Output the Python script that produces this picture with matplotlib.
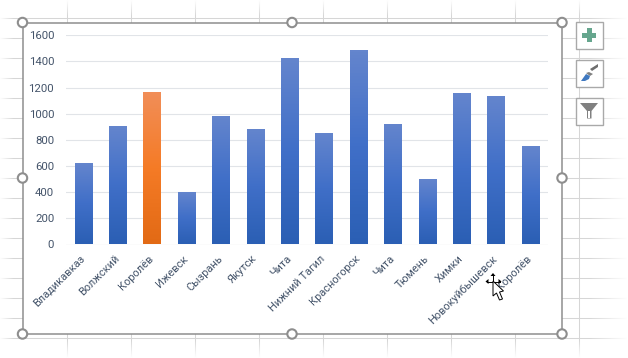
import numpy as np
import matplotlib
matplotlib.use('Agg')
import matplotlib.pyplot as plt
from matplotlib.patches import Circle, Rectangle, Polygon
from matplotlib.colors import LinearSegmentedColormap

W, H = 628, 358

cities = ['Владикавказ', 'Волжский', 'Королёв', 'Ижевск', 'Сызрань', 'Якутск', 'Чита',
          'Нижний Тагил', 'Красногорск', 'Чита', 'Тюмень', 'Химки', 'Новокуйбышевск', 'Королёв']
values = [625, 910, 1170, 400, 985, 880, 1425, 850, 1490, 920, 500, 1155, 1135, 750]
yticks = [0, 200, 400, 600, 800, 1000, 1200, 1400, 1600]

plt.rcParams['font.family'] = ['Roboto', 'DejaVu Sans']
TEXT = '#44546a'

fig = plt.figure(figsize=(W / 100, H / 100), dpi=100)

# sheet behind the chart, in pixel coordinates
bg = fig.add_axes([0, 0, 1, 1], zorder=0)
bg.set_xlim(0, W)
bg.set_ylim(H, 0)
bg.axis('off')
for x in range(67, W, 64):
    bg.plot([x, x], [0, H], color='#d6d6d6', lw=0.75)
for y in range(18, H, 20):
    bg.plot([0, W], [y, y], color='#d6d6d6', lw=0.75)

# sheet fades out at the edges
def fade(extent, horizontal, reverse):
    a = np.linspace(1, 0, 32)
    if reverse:
        a = a[::-1]
    img = np.ones((1, 32, 4)) if horizontal else np.ones((32, 1, 4))
    img[..., 3] = a.reshape(img.shape[:2])
    bg.imshow(img, extent=extent, origin='upper', aspect='auto', zorder=3, interpolation='bilinear')

fade((0, 14, H, 0), True, False)
fade((W - 40, W, H, 0), True, True)
fade((0, W, 16, 0), False, False)
fade((0, W, H, H - 18), False, True)
bg.set_xlim(0, W)
bg.set_ylim(H, 0)

bg.add_patch(Rectangle((22.5, 22.5), 539.5, 311.5, fc='white', ec='#8e8e8e', lw=1.1, zorder=4))

# chart
ax = fig.add_axes([66 / W, 1 - 244.5 / H, 481.5 / W, 209.2 / H], zorder=2)
ax.patch.set_alpha(0)
pos = np.arange(len(cities))

blue = LinearSegmentedColormap.from_list('blue', ['#6485cd', '#406fc8', '#2b5fb4'])
orange = LinearSegmentedColormap.from_list('orange', ['#f18e58', '#f57b26', '#e26a15'])
grad = np.linspace(0, 1, 64).reshape(-1, 1)

bars = ax.bar(pos, values, width=0.5, color='none', zorder=3)
for i, b in enumerate(bars):
    cmap = orange if i == 2 else blue
    im = ax.imshow(grad, extent=(b.get_x(), b.get_x() + b.get_width(), 0, b.get_height()),
                   cmap=cmap, aspect='auto', origin='upper', zorder=3)
    # clip to the bar so the image edges do not spill a pixel over
    im.set_clip_path(b)
ax.set_xlim(-0.5, len(cities) - 0.5)
ax.set_ylim(0, 1600)

ax.set_yticks(yticks)
ax.yaxis.grid(True, color='#e1e4e8', lw=0.8)
ax.set_axisbelow(True)
for s in ax.spines.values():
    s.set_visible(False)
ax.plot([-0.5, len(cities) - 0.5], [0, 0], color='#d9dee6', lw=0.8, zorder=1)
ax.tick_params(length=0)
ax.tick_params(axis='y', labelsize=8.2, labelcolor=TEXT, pad=8.5)
ax.set_xticks(pos)
ax.set_xticklabels(cities, rotation=45, ha='right', va='center', rotation_mode='anchor',
                   fontsize=7.9, color=TEXT)
ax.tick_params(axis='x', pad=9)

# selection handles and side buttons, cursor on top
top = fig.add_axes([0, 0, 1, 1], zorder=5)
top.set_xlim(0, W)
top.set_ylim(H, 0)
top.axis('off')
top.patch.set_alpha(0)
for hx, hy in [(22.5, 22.5), (292, 22.5), (562, 22.5), (22.5, 178), (562, 178), (22.5, 334), (292, 334), (562, 334)]:
    top.add_patch(Circle((hx, hy), 4.7, fc='white', ec='#8e8e8e', lw=1.5))

for by in [21.5, 59.5, 97.5]:
    top.add_patch(Rectangle((575.5, by), 27, 27, fc='white', ec='#a9a9a9', lw=1.0))

# plus
top.add_patch(Rectangle((587, 28), 4.5, 14, fc='#66a68e', ec='none'))
top.add_patch(Rectangle((582, 33), 14, 4.5, fc='#66a68e', ec='none'))
# brush
top.add_patch(Polygon([(592, 71), (598, 67), (598, 64), (590, 69)], fc='#6e6e6e', ec='none'))
top.add_patch(Polygon([(589, 72), (593, 74), (590, 76), (586, 73)], fc='#808080', ec='none'))
top.add_patch(Polygon([(581, 81), (586, 74), (590, 76), (589, 79), (585, 81)], fc='#3f78c0', ec='none'))
# funnel
top.add_patch(Polygon([(580, 103), (598, 103), (591.5, 111), (591.5, 118.5), (587, 118.5), (587, 111)],
                      fc='#808080', ec='none'))
top.add_patch(Polygon([(588.3, 111), (590.2, 111), (590.2, 117.5), (588.3, 117.5)], fc='white', ec='none'))

# mouse cursor
top.plot([493, 493], [275, 288], color='black', lw=0.7)
top.plot([487, 500], [281.5, 281.5], color='black', lw=0.7)
top.add_patch(Polygon([(493, 273), (490.5, 276), (495.5, 276)], fc='black', ec='none'))
top.add_patch(Polygon([(485.5, 281.5), (488.5, 279), (488.5, 284)], fc='black', ec='none'))
top.add_patch(Polygon([(501.5, 281.5), (498.5, 279), (498.5, 284)], fc='black', ec='none'))
top.add_patch(Polygon([(493, 281), (493, 296), (496.5, 293), (499.5, 300), (502.5, 299), (499.5, 292), (503.5, 291)],
                      fc='white', ec='black', lw=0.7, zorder=6))

fig.savefig('out.png', dpi=100)
